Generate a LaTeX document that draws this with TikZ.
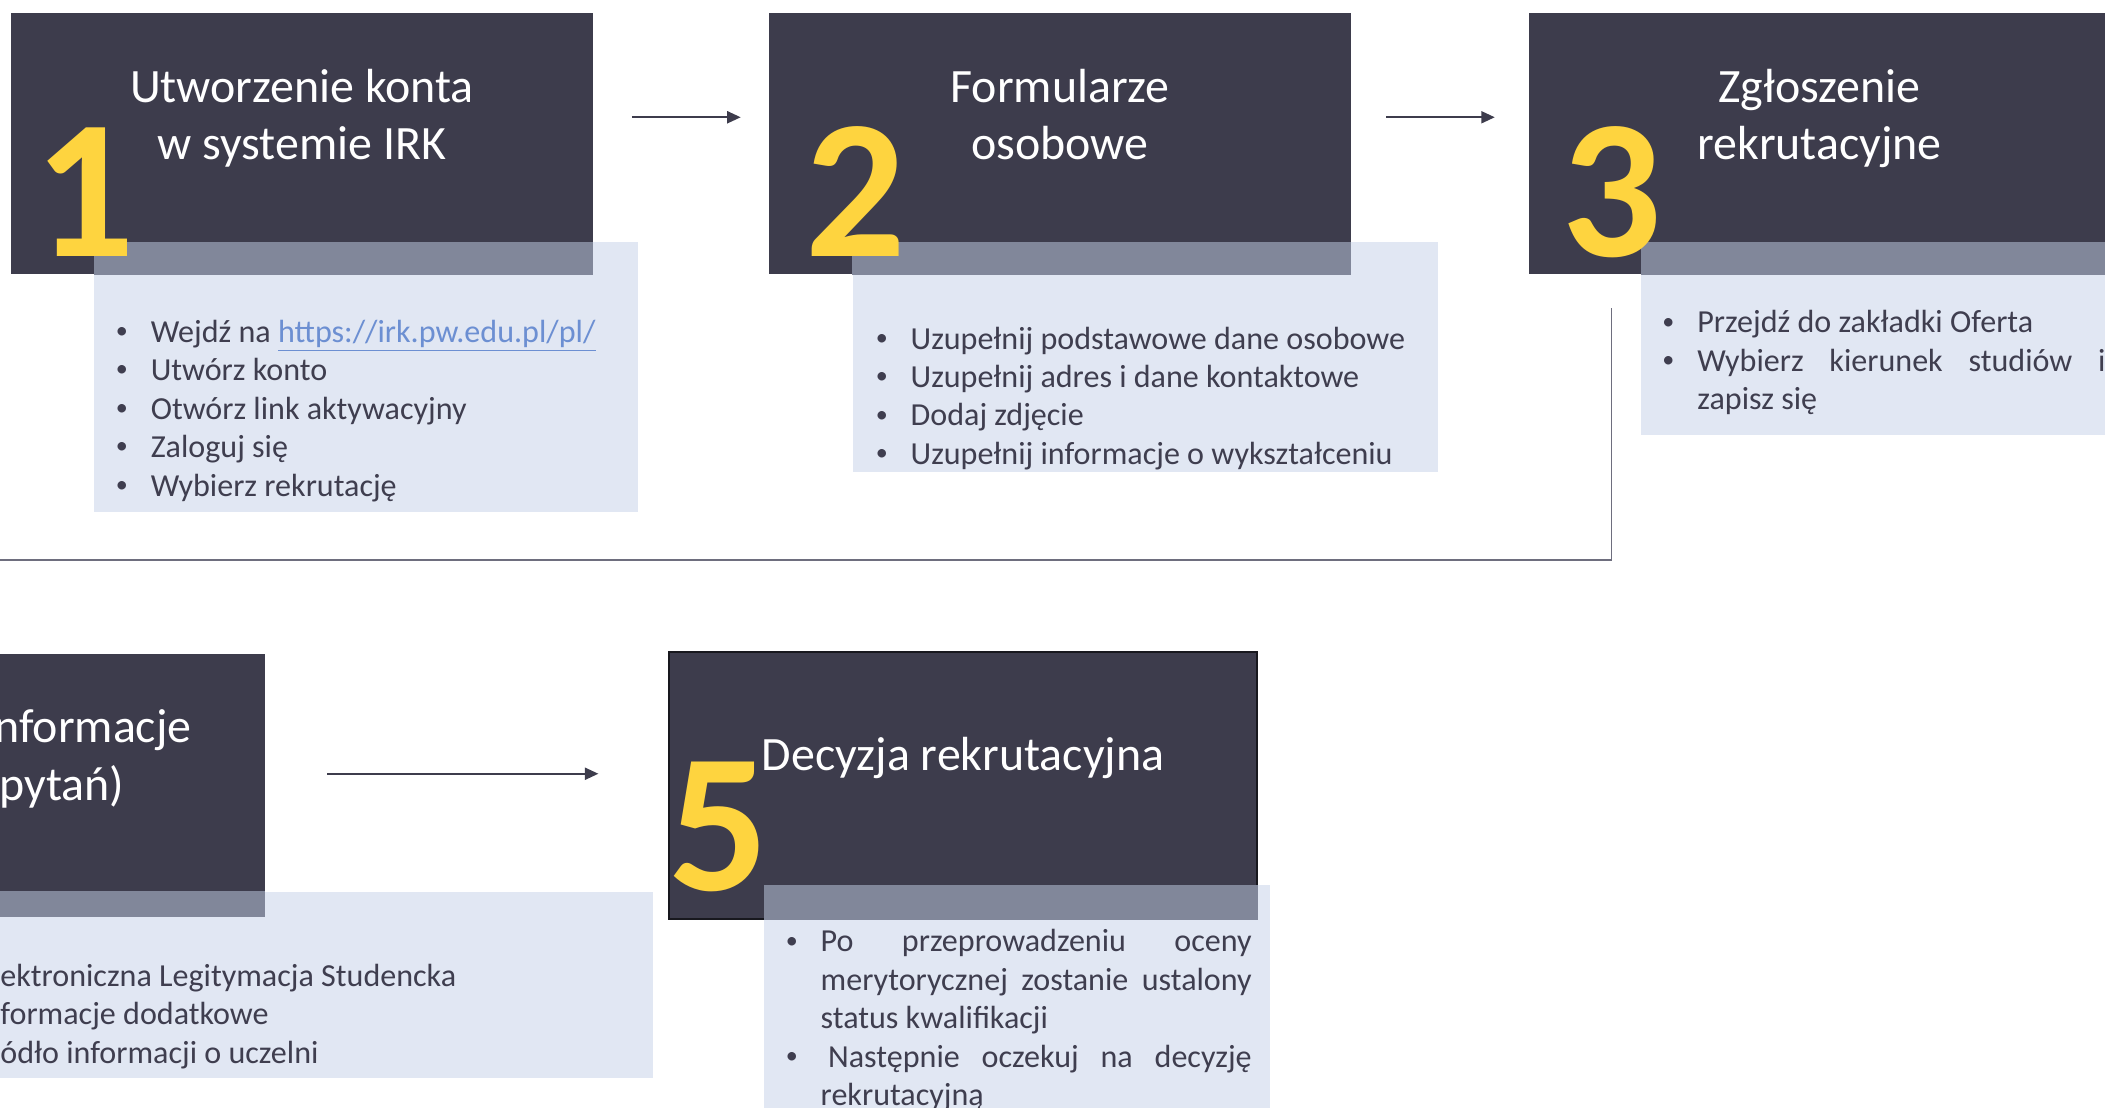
\documentclass[tikz,border=0pt]{standalone}
\usepackage{fontspec}
\setmainfont{Carlito}
\usepackage{graphicx}
\usepackage{tikz}
\usetikzlibrary{arrows.meta, positioning, calc}

\definecolor{boxdark}{HTML}{3D3C4C}
\definecolor{infofill}{HTML}{E1E7F3}
\definecolor{shadefill}{HTML}{81879A}
\definecolor{numyellow}{HTML}{FED43F}
\definecolor{listgray}{HTML}{3F3E4F}
\definecolor{linkblue}{HTML}{6C8FD2}
\definecolor{linegray}{HTML}{6E6E7E}

\newlength\bulind
\setlength\bulind{5.8mm}
\newcommand\bitem{\noindent\hangindent=\bulind\hangafter=1\makebox[\bulind][l]{\hspace{0.6mm}\raisebox{0.25ex}{\scalebox{0.75}{\textbullet}}}}

\begin{document}
\begin{tikzpicture}[x=0.2mm, y=-0.2mm, >={Triangle[length=2mm, width=1.8mm]},
    stepbox/.style={rectangle, fill=boxdark, inner sep=0, minimum width=86.6mm, minimum height=39mm},
    infobox/.style={rectangle, fill=infofill, inner sep=0},
    titletext/.style={text=white, align=center, inner sep=0, font=\fontsize{20.3}{24.4}\selectfont},
    numtext/.style={text=numyellow, inner sep=0, font=\fontsize{84}{84}\selectfont\bfseries},
    listtext/.style={text=listgray, inner sep=0, align=justify, font=\fontsize{13.6}{16.3}\selectfont},
    flow/.style={->, draw=boxdark, line width=0.7pt}]
    \useasboundingbox (0,0) rectangle (1568,825);
    \clip (0,0) rectangle (1568,825);

    \node[stepbox, anchor=north west] (box1) at (8,9) {};
    \node[stepbox, right=26.2mm of box1] (box2) {};
    \node[stepbox, right=26.4mm of box2] (box3) {};
    \node[stepbox, anchor=north west] (box4) at (-236,487) {};
    \node[stepbox, draw=black!60!boxdark, line width=0.8pt, minimum width=87.6mm, minimum height=39.8mm, right=60mm of box4] (box5) {};

    \node[infobox, anchor=north west, minimum width=81mm, minimum height=40.2mm] (info1) at (70,180) {};
    \node[infobox, anchor=north west, minimum width=87.2mm, minimum height=34.2mm] (info2) at (635,180) {};
    \node[infobox, anchor=north west, minimum width=87.2mm, minimum height=28.8mm] (info3) at (1222,180) {};
    \node[infobox, anchor=north east, minimum width=110mm, minimum height=27.8mm] (info4) at (487,664) {};
    \node[infobox, anchor=north west, minimum width=75.4mm, minimum height=35mm] (info5) at (569,659) {};

    \fill[shadefill] (info1.north west) rectangle (box1.south east);
    \fill[shadefill] (info2.north west) rectangle (box2.south east);
    \fill[shadefill] (info3.north west) rectangle (box3.south east);
    \fill[shadefill] (box4.west |- info4.north) rectangle (box4.south east);
    \fill[shadefill] (info5.north west) rectangle (box5.south east);

    \node[titletext, anchor=base] (title1) at ([yshift=-22mm]box1.north) {Utworzenie konta\\w systemie IRK};
    \node[titletext, anchor=base] (title2) at ([yshift=-22mm]box2.north) {Formularze\\osobowe};
    \node[titletext, anchor=base] (title3) at ([yshift=-22mm]box3.north) {Zgłoszenie\\rekrutacyjne};
    \node[titletext, anchor=base east] (title4a) at (143,553) {nformacje};
    \node[titletext, anchor=base east] (title4b) at (93,596) {pytań)};
    \node[titletext, anchor=base] (title5) at ([yshift=-17.8mm]box5.north) {Decyzja rekrutacyjna};

    \node[numtext, anchor=base west] (num1) at ([xshift=3.4mm, yshift=2.8mm]box1.south west) {1};
    \node[numtext, anchor=base west] (num2) at ([xshift=5.4mm, yshift=2.8mm]box2.south west) {2};
    \node[numtext, anchor=base west] (num3) at ([xshift=4.8mm, yshift=2.8mm]box3.south west) {3};
    \node[numtext, anchor=base west] (num5) at ([xshift=0mm, yshift=4.4mm]box5.south west) {5};

    \node[listtext, text width=75mm, anchor=base west] (list1) at (83,255)
        {\bitem Wejdź na {\color{linkblue}\underline{https://irk.pw.edu.pl/pl/}}\par\bitem Utwórz konto\par\bitem Otwórz link aktywacyjny\par\bitem Zaloguj się\par\bitem Wybierz rekrutację\par};
    \node[listtext, text width=84mm, anchor=base west] (list2) at (649,260)
        {\bitem Uzupełnij podstawowe dane osobowe\par\bitem Uzupełnij adres i dane kontaktowe\par\bitem Dodaj zdjęcie\par\bitem Uzupełnij informacje o wykształceniu\par};
    \node[listtext, text width=66.6mm, anchor=base west] (list3) at (1235,248)
        {\bitem Przejdź do zakładki Oferta\par\bitem Wybierz kierunek studiów i\linebreak zapisz się\par};
    \node[listtext, align=left, anchor=base west] (list4) at (0,792)
        {ektroniczna Legitymacja Studencka\\formacje dodatkowe\\ódło informacji o uczelni};
    \node[listtext, text width=70mm, anchor=base west] (list5) at (582,709)
        {\bitem Po przeprowadzeniu oceny\linebreak merytorycznej zostanie ustalony\linebreak status kwalifikacji\par\bitem\hspace{1.1mm}Następnie oczekuj na decyzję\linebreak rekrutacyjną\par};

    \draw[flow, shorten <=5.8mm, shorten >=4.2mm] ([yshift=3.9mm]box1.east) -- ([yshift=3.9mm]box2.west);
    \draw[flow, shorten <=5.2mm, shorten >=5mm] ([yshift=3.9mm]box2.east) -- ([yshift=3.9mm]box3.west);
    \draw[flow, shorten <=9.2mm, shorten >=10.4mm] ([yshift=1.7mm]box4.east) -- ([yshift=1.7mm]box5.west);

    \coordinate (c3) at ([xshift=12.4mm, yshift=-5mm]box3.south west);
    \coordinate (c4) at (-10,417);
    \draw[linegray, line width=0.6pt] (c3) |- (c4);
\end{tikzpicture}
\end{document}
